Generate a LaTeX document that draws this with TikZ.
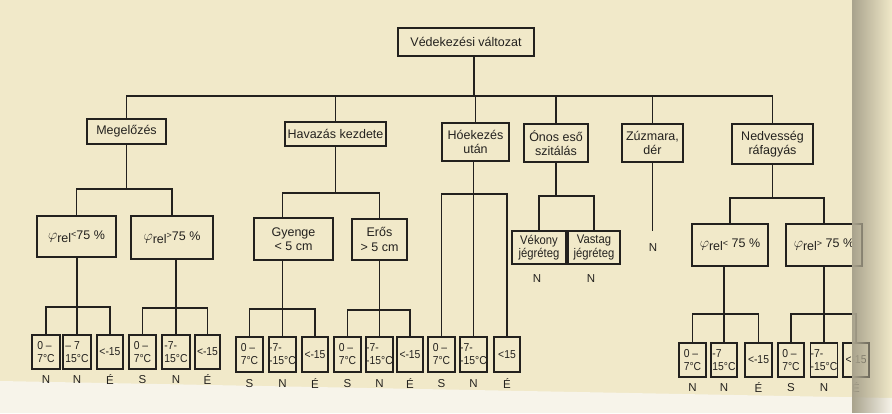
\documentclass[tikz,border=0pt]{standalone}
\usepackage{fontspec}
\setmainfont{Liberation Sans}
\newfontfamily\narrowfont[FakeStretch=0.9]{Liberation Sans}
\usetikzlibrary{fadings}
\definecolor{paper}{RGB}{241,233,201}
\definecolor{paperlow}{RGB}{247,244,234}
\definecolor{ink}{RGB}{35,33,30}
\newcommand{\myphi}[2]{{\fontsize{15}{15}\selectfont$\varphi$}\raisebox{-3pt}{rel}\raisebox{1.5pt}{\fontsize{9}{9}\selectfont#1}#2}
\begin{document}
\begin{tikzpicture}[x=1pt,y=-1pt,
  box/.style={draw=ink, line width=1.2pt, inner sep=0pt, align=center, text=ink,
              font=\fontsize{12.5}{14.5}\selectfont},
  sbox/.style={box, align=left, font=\narrowfont\fontsize{11.5}{13}\selectfont},
  lab/.style={text=ink, inner sep=0pt, font=\fontsize{11.5}{12}\selectfont},
  wire/.style={draw=ink, line width=1.2pt}]
\useasboundingbox (0,0) rectangle (892,413);
\fill[paper] (0,0) rectangle (892,413);
\fill[paperlow] (0,381) -- (892,398) -- (892,413) -- (0,413) -- cycle;

% level 0 and 1
\node[box, minimum width=136, minimum height=28] (top) at (466,42) {Védekezési változat};
\node[box, minimum width=79, minimum height=25] (meg) at (126.5,131.5) {Megelőzés};
\node[box, minimum width=101, minimum height=24] (hav) at (335.5,134) {Havazás kezdete};
\node[box, minimum width=67, minimum height=38] (hoe) at (475.5,142) {Hóekezés\\után};
\node[box, minimum width=64, minimum height=38] (onos) at (556,143) {Ónos eső\\szitálás};
\node[box, minimum width=61, minimum height=38] (zuz) at (652.5,143) {Zúzmara,\\dér};
\node[box, minimum width=81, minimum height=40] (ned) at (772.5,144) {Nedvesség\\ráfagyás};

% level 2
\node[box, minimum width=79, minimum height=41] (phi1) at (76.5,236.5) {\myphi{<}{75 \%}};
\node[box, minimum width=82, minimum height=43] (phi2) at (172,237.5) {\myphi{>}{75 \%}};
\node[box, minimum width=79, minimum height=42] (gy) at (293.5,239) {Gyenge\\< 5 cm};
\node[box, minimum width=55, minimum height=41] (er) at (379.5,239.5) {Erős\\> 5 cm};
\node[box, minimum width=54, minimum height=33, font=\narrowfont\fontsize{12.5}{13.5}\selectfont] (vek) at (539,247.5) {Vékony\\jégréteg};
\node[box, minimum width=52, minimum height=33, font=\narrowfont\fontsize{12.5}{13.5}\selectfont] (vas) at (594,247.5) {Vastag\\jégréteg};
\node[box, minimum width=76, minimum height=42] (nphi1) at (730,245) {\myphi{<}{ 75 \%}};
\node[box, minimum width=76, minimum height=42] (nphi2) at (824,245) {\myphi{>}{ 75 \%}};

% level 3 (bottom boxes)
\node[sbox, minimum width=28, minimum height=34] (m1a) at (46,352) {0 –\\7°C};
\node[sbox, minimum width=28, minimum height=34] (m1b) at (77,352) {– 7\\15°C};
\node[sbox, minimum width=26, minimum height=34] (m1c) at (110,352) {<-15};
\node[sbox, minimum width=27, minimum height=34] (m2a) at (142.5,352) {0 –\\7°C};
\node[sbox, minimum width=28, minimum height=34] (m2b) at (176,352) {-7-\\15°C};
\node[sbox, minimum width=25, minimum height=34] (m2c) at (207.5,352) {<-15};

\node[sbox, minimum width=27, minimum height=35] (g1) at (249.5,354.5) {0 –\\7°C};
\node[sbox, minimum width=27, minimum height=35] (g2) at (282.5,354.5) {-7-\\-15°C};
\node[sbox, minimum width=26, minimum height=35] (g3) at (315,354.5) {<-15};
\node[sbox, minimum width=27, minimum height=35] (e1) at (347.5,354.5) {0 –\\7°C};
\node[sbox, minimum width=27, minimum height=35] (e2) at (379.5,354.5) {-7-\\-15°C};
\node[sbox, minimum width=26, minimum height=35] (e3) at (410,354.5) {<-15};
\node[sbox, minimum width=27, minimum height=35] (h1) at (441.5,354.5) {0 –\\7°C};
\node[sbox, minimum width=27, minimum height=35] (h2) at (473.5,354.5) {-7-\\-15°C};
\node[sbox, minimum width=26, minimum height=35] (h3) at (507,354.5) {<15};

\node[sbox, minimum width=27, minimum height=34] (n1a) at (692.5,360) {0 –\\7°C};
\node[sbox, minimum width=26, minimum height=34] (n1b) at (724,360) {-7\\15°C};
\node[sbox, minimum width=27, minimum height=34] (n1c) at (758.5,360) {<-15};
\node[sbox, minimum width=26, minimum height=34] (n2a) at (791,360) {0 –\\7°C};
\node[sbox, minimum width=26, minimum height=34] (n2b) at (824,360) {-7-\\-15°C};
\node[sbox, minimum width=26, minimum height=34] (n2c) at (856,360) {<-15};

% leaf labels
\foreach \b/\t in {m1a/N,m1b/N,m1c/É,m2a/S,m2b/N,m2c/É}
  \node[lab] (L\b) at (\b.south |- 0,380) {\t};
\foreach \b/\t in {g1/S,g2/N,g3/É,e1/S,e2/N,e3/É,h1/S,h2/N,h3/É}
  \node[lab] (L\b) at (\b.south |- 0,384) {\t};
\foreach \b/\t in {n1a/N,n1b/N,n1c/É,n2a/S,n2b/N,n2c/É}
  \node[lab] (L\b) at (\b.south |- 0,388) {\t};
\node[lab] (vekN) at (537,279) {N};
\node[lab] (vasN) at (591,279) {N};
\node[lab] (zuzN) at (653,248) {N};

% connectors level 0-1
\coordinate (b1) at (474,96);
\draw[wire] (b1 |- top.south) -- (b1);
\draw[wire] (meg.north) |- (ned.north |- b1) -- (ned.north);
\foreach \n in {hav,hoe,onos,zuz} \draw[wire] (\n.north) -- (\n.north |- b1);

% Megelőzés
\coordinate (bm) at (0,189);
\draw[wire] (meg.south) -- (meg.south |- bm);
\draw[wire] (phi1.north) |- (phi2.north |- bm) -- (phi2.north);
\coordinate (bm1) at (0,307);
\draw[wire] (m1b.north |- phi1.south) -- (m1b.north);
\draw[wire] (m1a.north) |- (m1c.north |- bm1) -- (m1c.north);
\coordinate (bm2) at (0,308);
\draw[wire] (m2b.north |- phi2.south) -- (m2b.north);
\draw[wire] (m2a.north) |- (m2c.north |- bm2) -- (m2c.north);

% Havazás
\coordinate (bh) at (0,193);
\draw[wire] (hav.south) -- (hav.south |- bh);
\draw[wire] (g2.north |- gy.north) |- (er.north |- bh) -- (er.north);
\coordinate (bg) at (0,309);
\draw[wire] (g2.north |- gy.south) -- (g2.north);
\draw[wire] (g1.north) |- (g3.north |- bg) -- (g3.north);
\coordinate (be) at (0,310);
\draw[wire] (e2.north |- er.south) -- (e2.north);
\draw[wire] (e1.north) |- (e3.north |- be) -- (e3.north);

% Hóekezés
\coordinate (bo) at (0,194);
\draw[wire] (h2.north |- hoe.south) -- (h2.north);
\draw[wire] (h1.north) |- (h3.north |- bo) -- (h3.north);

% Ónos eső
\coordinate (bon) at (0,196);
\draw[wire] (onos.south) -- (onos.south |- bon);
\draw[wire] (vek.north) |- (vas.north |- bon) -- (vas.north);

% Zúzmara
\coordinate (zend) at (0,231);
\draw[wire] (zuz.south) -- (zuz.south |- zend);

% Nedvesség
\coordinate (bn) at (0,198);
\draw[wire] (ned.south) -- (ned.south |- bn);
\draw[wire] (nphi1.north) |- (nphi2.north |- bn) -- (nphi2.north);
\coordinate (bn1) at (0,314);
\draw[wire] (n1b.north |- nphi1.south) -- (n1b.north);
\draw[wire] (n1a.north) |- (n1c.north |- bn1) -- (n1c.north);
\draw[wire] (n2b.north |- nphi2.south) -- (n2b.north);
\draw[wire] (n2a.north) |- (n2c.north |- bn1) -- (n2c.north);

% book gutter shadow
\fill[black!30!paper, path fading=east] (852,0) rectangle (892,413);
\end{tikzpicture}
\end{document}
